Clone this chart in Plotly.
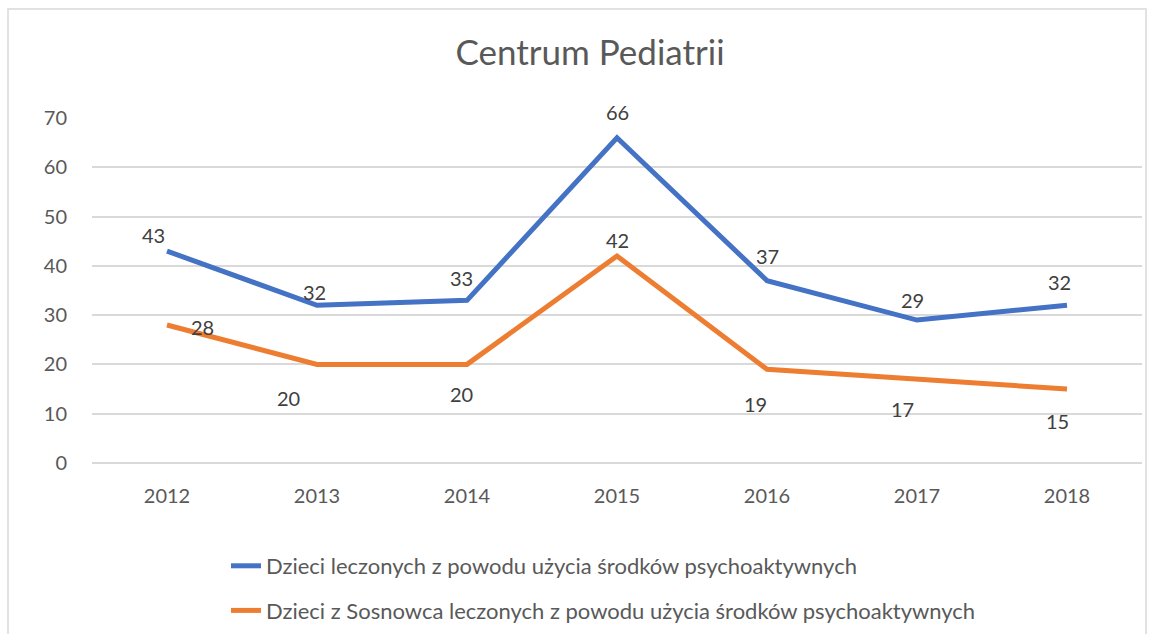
import plotly.graph_objects as go

years = ["2012", "2013", "2014", "2015", "2016", "2017", "2018"]
all_children = [43, 32, 33, 66, 37, 29, 32]
sosnowiec_children = [28, 20, 20, 42, 19, 17, 15]
series_names = [
    "Dzieci leczonych z powodu użycia środków psychoaktywnych",
    "Dzieci z Sosnowca leczonych z powodu użycia środków psychoaktywnych",
]
title_text = "Centrum Pediatrii"

# label offsets (pixels) for data labels
blue_offsets = [(-14, 16), (-3, 13), (-6, 22), (0, 26), (0, 25), (-5, 20), (-8, 23)]
orange_offsets = [(35, -2), (-29, -34), (-6, -30), (0, 16), (-12, -35), (-15, -30), (-10, -32)]

W, H = 1158, 634
L, R, T, B = 92, 16, 118, 171
pw, ph = W - L - R, H - T - B

BLUE = "#4472C4"
ORANGE = "#ED7D31"
FONT = "Lato"

fig = go.Figure()
fig.add_trace(go.Scatter(x=years, y=all_children, mode="lines", name=series_names[0],
                         line=dict(color=BLUE, width=5), legendgroup="a"))
fig.add_trace(go.Scatter(x=years, y=sosnowiec_children, mode="lines", name=series_names[1],
                         line=dict(color=ORANGE, width=5), legendgroup="b"))

annotations = []
for vals, offs in ((all_children, blue_offsets), (sosnowiec_children, orange_offsets)):
    for i, (yv, (dx, dy)) in enumerate(zip(vals, offs)):
        annotations.append(dict(x=i, y=yv, text=str(yv), showarrow=False,
                                xshift=dx, yshift=dy,
                                font=dict(family=FONT, size=20, color="#404040")))

fig.update_layout(
    width=W, height=H,
    margin=dict(l=L, r=R, t=T, b=B, autoexpand=False),
    paper_bgcolor="white", plot_bgcolor="white",
    title=dict(text=title_text, x=590 / W, xanchor="center", xref="container",
               y=1 - 53 / H, yanchor="middle", yref="container",
               font=dict(family=FONT, size=35, color="#595959")),
    showlegend=True,
    legend=dict(x=(226 - L) / pw, xanchor="left", y=(H - B - 545) / ph, yanchor="top",
                orientation="v", traceorder="grouped", tracegroupgap=13,
                font=dict(family=FONT, size=22, color="#595959"), itemwidth=30,
                bgcolor="rgba(0,0,0,0)"),
    annotations=annotations,
    xaxis=dict(type="category", range=[-0.5, len(years) - 0.5], autorange=False,
               showgrid=False, showline=False, zeroline=False, ticks="",
               tickfont=dict(family=FONT, size=20, color="#595959"),
               ticklabelstandoff=19),
    yaxis=dict(range=[-0.02, 70.02], autorange=False, dtick=10, tick0=0,
               showgrid=True, gridcolor="#d9d9d9", gridwidth=1.5,
               zeroline=True, zerolinecolor="#d9d9d9", zerolinewidth=1.5,
               showline=False, ticks="",
               tickfont=dict(family=FONT, size=20, color="#595959"),
               ticklabelstandoff=24),
    shapes=[dict(type="rect", xref="paper", yref="paper",
                 x0=(8 - L) / pw, x1=(1146 - L) / pw,
                 y0=(H - B - 660) / ph, y1=(H - B - 9) / ph,
                 line=dict(color="#d9d9d9", width=1.5), layer="below")],
)

fig.write_html("out.html", config={"displayModeBar": False},
               post_script="document.body.style.margin='0';")
